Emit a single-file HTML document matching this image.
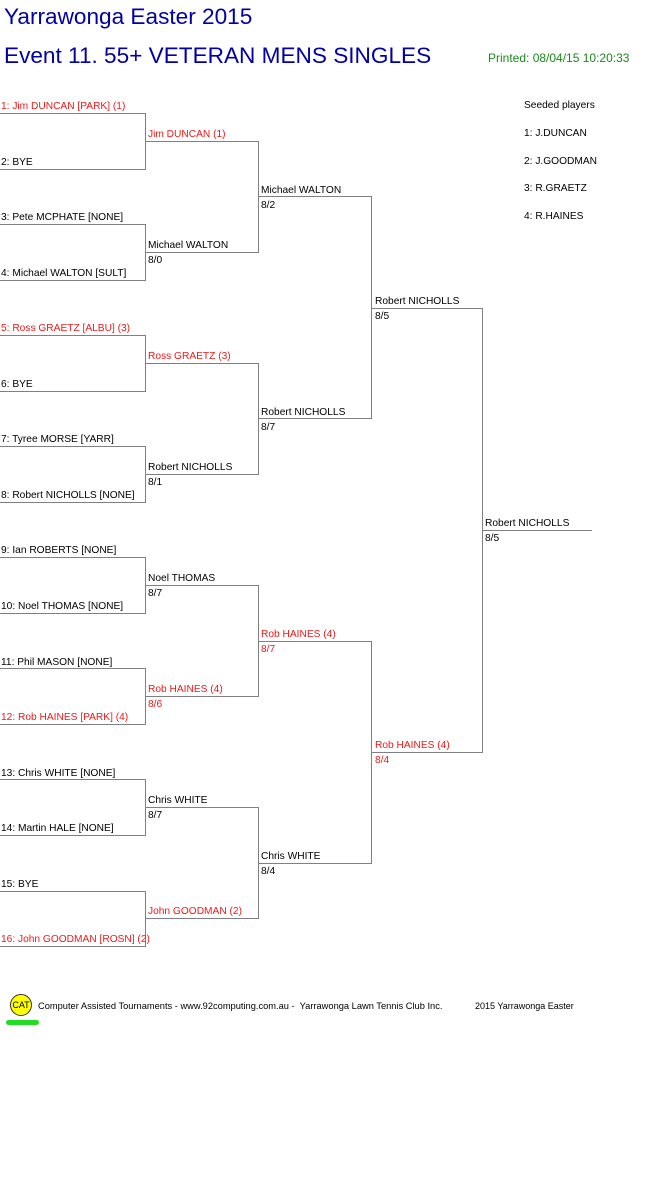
<!DOCTYPE html>
<html><head><meta charset="utf-8"><style>
body{margin:0;width:661px;height:1196px;background:#fff;position:relative;overflow:hidden;font-family:"Liberation Sans",Arial,sans-serif}
.t{position:absolute;font-size:10.2px;line-height:13px;white-space:nowrap;color:#000;margin-top:2px}
.r{color:#f01818}
.h{position:absolute;height:1px;background:#808080}
.v{position:absolute;width:1px;background:#808080}
.ti{position:absolute;color:#0000a8;font-size:22.6px;line-height:26px;white-space:nowrap}
</style></head><body>
<div class="ti" style="left:4px;top:4px">Yarrawonga Easter 2015</div>
<div class="ti" style="left:4px;top:43px">Event 11. 55+ VETERAN MENS SINGLES</div>
<div class="t" style="left:488px;top:50px;font-size:12px;color:#1a8a1a">Printed: 08/04/15 10:20:33</div>

<div class="t" style="left:524px;top:97px">Seeded players</div>
<div class="t" style="left:524px;top:125px">1: J.DUNCAN</div>
<div class="t" style="left:524px;top:153px">2: J.GOODMAN</div>
<div class="t" style="left:524px;top:180px">3: R.GRAETZ</div>
<div class="t" style="left:524px;top:208px">4: R.HAINES</div>

<div class="h" style="left:0;width:146px;top:113px"></div>
<div class="h" style="left:0;width:146px;top:169px"></div>
<div class="h" style="left:0;width:146px;top:224px"></div>
<div class="h" style="left:0;width:146px;top:280px"></div>
<div class="h" style="left:0;width:146px;top:335px"></div>
<div class="h" style="left:0;width:146px;top:391px"></div>
<div class="h" style="left:0;width:146px;top:446px"></div>
<div class="h" style="left:0;width:146px;top:502px"></div>
<div class="h" style="left:0;width:146px;top:557px"></div>
<div class="h" style="left:0;width:146px;top:613px"></div>
<div class="h" style="left:0;width:146px;top:668px"></div>
<div class="h" style="left:0;width:146px;top:724px"></div>
<div class="h" style="left:0;width:146px;top:779px"></div>
<div class="h" style="left:0;width:146px;top:835px"></div>
<div class="h" style="left:0;width:146px;top:891px"></div>
<div class="h" style="left:0;width:146px;top:946px"></div>
<div class="v" style="left:145px;top:113px;height:57px"></div>
<div class="v" style="left:145px;top:224px;height:57px"></div>
<div class="v" style="left:145px;top:335px;height:57px"></div>
<div class="v" style="left:145px;top:446px;height:57px"></div>
<div class="v" style="left:145px;top:557px;height:57px"></div>
<div class="v" style="left:145px;top:668px;height:57px"></div>
<div class="v" style="left:145px;top:779px;height:57px"></div>
<div class="v" style="left:145px;top:891px;height:56px"></div>

<div class="t r" style="left:1px;top:98px">1: Jim DUNCAN [PARK] (1)</div>
<div class="t" style="left:1px;top:154px">2: BYE</div>
<div class="t" style="left:1px;top:209px">3: Pete MCPHATE [NONE]</div>
<div class="t" style="left:1px;top:265px">4: Michael WALTON [SULT]</div>
<div class="t r" style="left:1px;top:320px">5: Ross GRAETZ [ALBU] (3)</div>
<div class="t" style="left:1px;top:376px">6: BYE</div>
<div class="t" style="left:1px;top:431px">7: Tyree MORSE [YARR]</div>
<div class="t" style="left:1px;top:487px">8: Robert NICHOLLS [NONE]</div>
<div class="t" style="left:1px;top:542px">9: Ian ROBERTS [NONE]</div>
<div class="t" style="left:1px;top:598px">10: Noel THOMAS [NONE]</div>
<div class="t" style="left:1px;top:654px">11: Phil MASON [NONE]</div>
<div class="t r" style="left:1px;top:709px">12: Rob HAINES [PARK] (4)</div>
<div class="t" style="left:1px;top:765px">13: Chris WHITE [NONE]</div>
<div class="t" style="left:1px;top:820px">14: Martin HALE [NONE]</div>
<div class="t" style="left:1px;top:876px">15: BYE</div>
<div class="t r" style="left:1px;top:931px">16: John GOODMAN [ROSN] (2)</div>

<div class="h" style="left:145px;width:114px;top:141px"></div>
<div class="h" style="left:145px;width:114px;top:252px"></div>
<div class="h" style="left:145px;width:114px;top:363px"></div>
<div class="h" style="left:145px;width:114px;top:474px"></div>
<div class="h" style="left:145px;width:114px;top:585px"></div>
<div class="h" style="left:145px;width:114px;top:696px"></div>
<div class="h" style="left:145px;width:114px;top:807px"></div>
<div class="h" style="left:145px;width:114px;top:918px"></div>
<div class="v" style="left:258px;top:141px;height:112px"></div>
<div class="v" style="left:258px;top:363px;height:112px"></div>
<div class="v" style="left:258px;top:585px;height:112px"></div>
<div class="v" style="left:258px;top:807px;height:112px"></div>

<div class="t r" style="left:148px;top:126px">Jim DUNCAN (1)</div>
<div class="t" style="left:148px;top:237px">Michael WALTON</div>
<div class="t" style="left:148px;top:252px">8/0</div>
<div class="t r" style="left:148px;top:348px">Ross GRAETZ (3)</div>
<div class="t" style="left:148px;top:459px">Robert NICHOLLS</div>
<div class="t" style="left:148px;top:474px">8/1</div>
<div class="t" style="left:148px;top:570px">Noel THOMAS</div>
<div class="t" style="left:148px;top:585px">8/7</div>
<div class="t r" style="left:148px;top:681px">Rob HAINES (4)</div>
<div class="t r" style="left:148px;top:696px">8/6</div>
<div class="t" style="left:148px;top:792px">Chris WHITE</div>
<div class="t" style="left:148px;top:807px">8/7</div>
<div class="t r" style="left:148px;top:903px">John GOODMAN (2)</div>

<div class="h" style="left:258px;width:114px;top:196px"></div>
<div class="h" style="left:258px;width:114px;top:418px"></div>
<div class="h" style="left:258px;width:114px;top:641px"></div>
<div class="h" style="left:258px;width:114px;top:863px"></div>
<div class="v" style="left:371px;top:196px;height:223px"></div>
<div class="v" style="left:371px;top:641px;height:223px"></div>

<div class="t" style="left:261px;top:182px">Michael WALTON</div>
<div class="t" style="left:261px;top:197px">8/2</div>
<div class="t" style="left:261px;top:404px">Robert NICHOLLS</div>
<div class="t" style="left:261px;top:419px">8/7</div>
<div class="t r" style="left:261px;top:626px">Rob HAINES (4)</div>
<div class="t r" style="left:261px;top:641px">8/7</div>
<div class="t" style="left:261px;top:848px">Chris WHITE</div>
<div class="t" style="left:261px;top:863px">8/4</div>

<div class="h" style="left:371px;width:112px;top:308px"></div>
<div class="h" style="left:371px;width:112px;top:752px"></div>
<div class="v" style="left:482px;top:308px;height:445px"></div>
<div class="t" style="left:375px;top:293px">Robert NICHOLLS</div>
<div class="t" style="left:375px;top:308px">8/5</div>
<div class="t r" style="left:375px;top:737px">Rob HAINES (4)</div>
<div class="t r" style="left:375px;top:752px">8/4</div>

<div class="h" style="left:482px;width:110px;top:530px"></div>
<div class="t" style="left:485px;top:515px">Robert NICHOLLS</div>
<div class="t" style="left:485px;top:530px">8/5</div>

<div style="position:absolute;left:10px;top:994px;width:20px;height:20px;border-radius:50%;background:#ffff00;border:1px solid #333;font-size:9px;line-height:20px;text-align:center;font-family:'Liberation Sans',sans-serif">CAT</div>
<div style="position:absolute;left:6px;top:1020px;width:33px;height:5px;border-radius:3px;background:#22dd22"></div>
<div class="t" style="left:38px;top:998px;font-size:9.3px">Computer Assisted Tournaments - www.92computing.com.au -&nbsp; Yarrawonga Lawn Tennis Club Inc.</div>
<div class="t" style="left:475px;top:998px;font-size:9px">2015 Yarrawonga Easter</div>
</body></html>
